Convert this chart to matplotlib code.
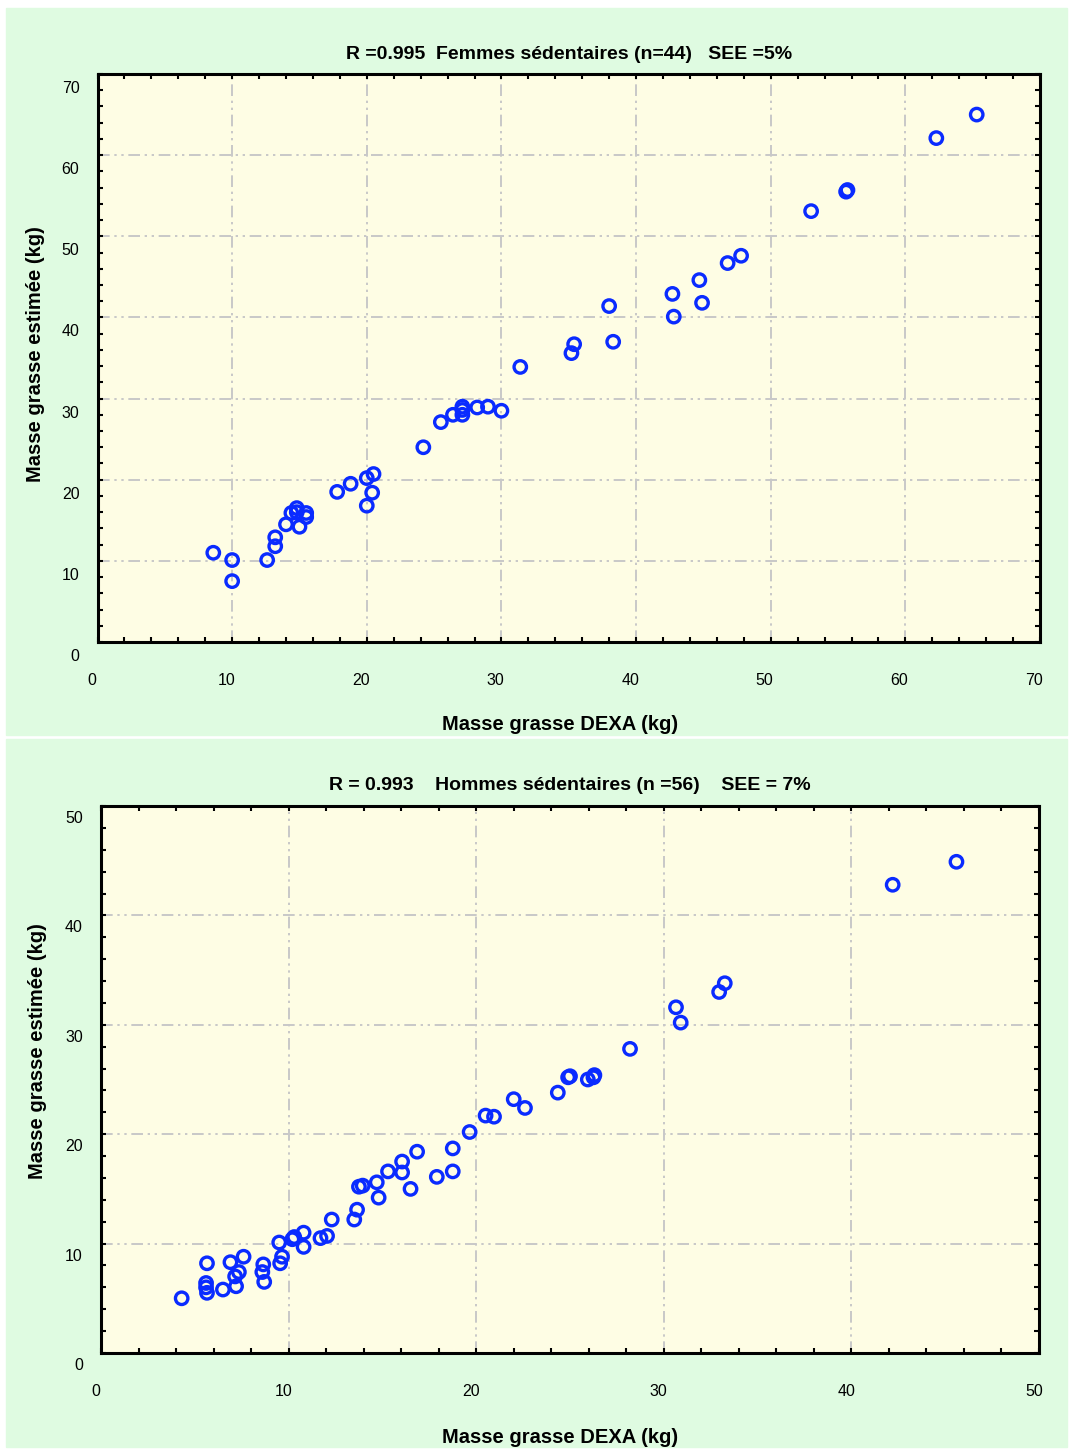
import matplotlib

matplotlib.use("Agg")
import matplotlib.pyplot as plt
from matplotlib.patches import Rectangle
from matplotlib.transforms import ScaledTranslation

plt.rcParams["font.family"] = ["Liberation Sans", "DejaVu Sans"]

# Femmes sedentaires (n=44): DEXA vs estimated fat mass (kg)
femmes_dexa = [
    8.6, 10.0, 10.0, 12.6, 13.2, 13.2, 14.0, 14.4, 14.8, 15.0, 15.5, 15.5,
    14.8, 17.8, 18.8, 20.0, 20.0, 20.4, 20.5, 24.2, 25.5, 26.4, 27.1, 27.1,
    27.1, 28.2, 29.0, 30.0, 31.4, 35.2, 35.4, 38.0, 38.3, 42.7, 42.8, 44.7,
    44.9, 46.8, 47.8, 53.0, 55.6, 55.7, 62.3, 65.3,
]
femmes_estimee = [
    11.0, 10.1, 7.5, 10.1, 12.9, 11.8, 14.5, 15.9, 16.5, 14.2, 15.9, 15.4,
    16.0, 18.5, 19.5, 16.8, 20.2, 18.4, 20.7, 24.0, 27.1, 28.0, 29.0, 28.0,
    28.6, 28.9, 29.0, 28.5, 33.9, 35.6, 36.7, 41.4, 37.0, 42.9, 40.1, 44.6,
    41.8, 46.7, 47.6, 53.1, 55.5, 55.7, 62.1, 65.0,
]

# Hommes sedentaires (n=56)
hommes_dexa = [
    4.3, 5.65, 5.6, 5.65, 6.5, 6.9, 7.2, 7.15, 7.35, 7.6, 8.65, 8.6,
    8.7, 9.55, 9.65, 9.5, 10.2, 10.8, 10.8, 11.7, 12.05, 12.3, 13.5, 13.65,
    13.75, 13.95, 14.8, 14.7, 15.3, 16.05, 16.05, 16.5, 16.85, 17.9, 18.75, 18.75,
    19.65, 20.5, 20.95, 22.0, 22.6, 24.35, 24.9, 25.0, 25.95, 26.25, 28.2, 30.65,
    30.9, 32.95, 33.25, 42.2, 45.6, 5.6, 10.3, 26.3,
]
hommes_estimee = [
    5.0, 8.2, 6.4, 5.5, 5.8, 8.3, 6.1, 7.0, 7.4, 8.8, 8.1, 7.4,
    6.5, 8.2, 8.8, 10.1, 10.4, 11.0, 9.7, 10.5, 10.7, 12.2, 12.2, 13.1,
    15.2, 15.3, 14.2, 15.6, 16.6, 17.5, 16.5, 15.0, 18.4, 16.1, 16.6, 18.7,
    20.2, 21.7, 21.6, 23.2, 22.4, 23.8, 25.2, 25.3, 25.0, 25.2, 27.8, 31.6,
    30.2, 33.0, 33.8, 42.8, 44.9, 6.0, 10.6, 25.4,
]

femmes_ticks = [0, 10, 20, 30, 40, 50, 60, 70]
hommes_ticks = [0, 10, 20, 30, 40, 50]

GREEN = "#DFFBE1"
PLOT_BG = "#FEFDE4"
BLUE = "#0A2BFF"
GRID = "#C8C8C8"
GRID_STYLE = (0, (6, 2.4, 1.2, 2.4, 1.2, 2.4))

W, H = 1069, 1450
fig = plt.figure(figsize=(W / 100, H / 100), dpi=100, facecolor="white")

# green panels, kept behind the axes
fig.patches.append(Rectangle((6 / W, 1 - 735 / H), 1061 / W, 727 / H,
                             transform=fig.transFigure, color=GREEN, zorder=-5))
fig.patches.append(Rectangle((6 / W, 1 - 1447 / H), 1061 / W, 708 / H,
                             transform=fig.transFigure, color=GREEN, zorder=-5))


def _panel(rect, x, y, ticks, title, ylab_xy, xlab_xy, title_y, ydown, xlab_shift):
    ax = fig.add_axes(rect)
    ax.set_facecolor(PLOT_BG)
    ax.scatter(x, y, s=80, facecolors="none", edgecolors=BLUE, linewidths=2.4, zorder=3)
    lim = ticks[-1]
    ax.set_xlim(0, lim)
    ax.set_ylim(0, lim)
    ax.set_xticks(ticks)
    ax.set_yticks(ticks)
    ax.set_xticks(range(0, lim + 1, 2), minor=True)
    ax.set_yticks(range(0, lim + 1, 2), minor=True)
    ax.grid(True, which="major", color=GRID, linewidth=1.4, linestyle=GRID_STYLE, zorder=1)
    ax.set_axisbelow(True)
    ax.tick_params(which="both", direction="in", top=True, right=True,
                   length=3.5, width=1.5, labelsize=11.5, colors="black")
    ax.tick_params(axis="y", pad=13)
    ax.tick_params(axis="x", pad=22)
    for sp in ax.spines.values():
        sp.set_linewidth(2.2)
    for lab in ax.get_yticklabels():
        lab.set_transform(lab.get_transform() + ScaledTranslation(0, -ydown / 100, fig.dpi_scale_trans))
    for lab in ax.get_xticklabels():
        lab.set_transform(lab.get_transform() + ScaledTranslation(-xlab_shift / 100, 0, fig.dpi_scale_trans))
    ax.text(0.5, title_y, title, transform=ax.transAxes, ha="center", va="center",
            fontsize=14, fontweight="bold")
    ax.text(xlab_xy[0], xlab_xy[1], "Masse grasse DEXA (kg)", transform=ax.transAxes,
            ha="center", va="center", fontsize=14.5, fontweight="bold")
    ax.text(ylab_xy[0], ylab_xy[1], "Masse grasse estimée (kg)", transform=ax.transAxes,
            ha="center", va="center", rotation=90, rotation_mode="anchor",
            fontsize=14.5, fontweight="bold")
    return ax


_panel([97.5 / W, 1 - 642 / H, 942.5 / W, 568 / H], femmes_dexa, femmes_estimee,
       femmes_ticks, "R =0.995  Femmes sédentaires (n=44)   SEE =5%",
       (-0.066, 0.507), (0.491, -0.146), 1.035, 13, 6)
_panel([101 / W, 1 - 1353 / H, 938 / W, 547 / H], hommes_dexa, hommes_estimee,
       hommes_ticks, "R = 0.993    Hommes sédentaires (n =56)    SEE = 7%",
       (-0.068, 0.552), (0.489, -0.154), 1.037, 11, 5)

fig.savefig("out.png", dpi=100, facecolor="white")
